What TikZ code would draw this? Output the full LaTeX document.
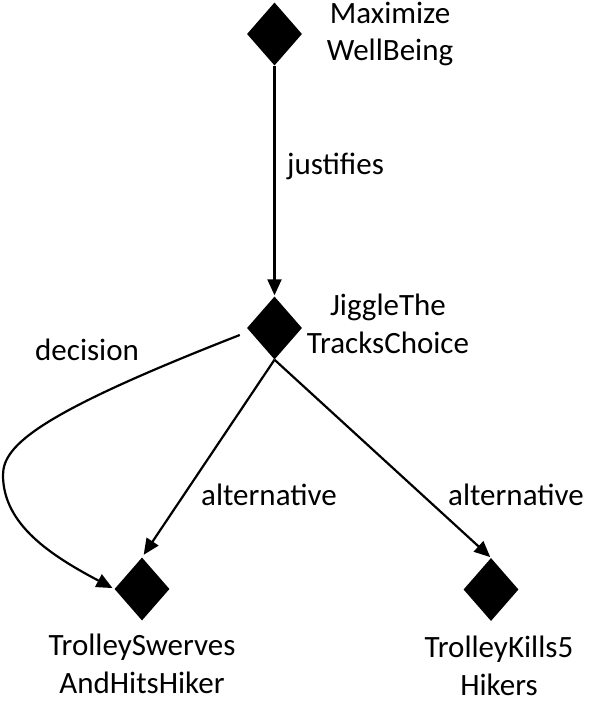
\documentclass[tikz,border=0pt]{standalone}
\usepackage{fontspec}
\setmainfont{Carlito}
\usetikzlibrary{shapes.geometric,arrows.meta}
\begin{document}
\begin{tikzpicture}[x=1pt,y=-1pt,
  every node/.style={font=\fontsize{31}{37.8}\selectfont},
  dia/.style={diamond,fill=black,draw=none,inner sep=0pt,minimum width=55pt,minimum height=63pt},
  lbl/.style={inner sep=0pt,align=center},
  elbl/.style={inner sep=0pt,anchor=base west},
  conn/.style={line width=2.2pt,-{Triangle[length=16pt,width=14pt]}}]
\useasboundingbox (0,0) rectangle (590,703);
\node[dia] (mw) at (274.5,34) {};
\node[dia] (jt) at (274.5,328) {};
\node[dia] (ts) at (142,589) {};
\node[dia] (tk) at (491,589.5) {};
\node[lbl] (mwl) at (390,34) {Maximize\\WellBeing};
\node[lbl] (jtl) at (388,324) {JiggleThe\\TracksChoice};
\node[lbl] (tsl) at (142,664) {TrolleySwerves\\AndHitsHiker};
\node[lbl] (tkl) at (499,666) {TrolleyKills5\\Hikers};
\coordinate (dmid) at (3,475);
\draw[conn,shorten >=1pt] (mw.south) -- (jt.north);
\draw[conn,shorten >=3pt] (jt.south) -- (ts.north);
\draw[conn,shorten >=1pt] (jt.south) -- (tk.north);
\draw[conn,shorten >=2pt] ([shift={(-7,7)}]jt.west) .. controls (40,413) and (3,445) .. (dmid)
   .. controls (3,525) and (52,556) .. (ts.west);
\node[elbl] (lj) at (287,175) {justifies};
\node[elbl] (la1) at (201,505) {alternative};
\node[elbl] (la2) at (448,505) {alternative};
\node[elbl] (ld) at (35,360) {decision};
\end{tikzpicture}
\end{document}
